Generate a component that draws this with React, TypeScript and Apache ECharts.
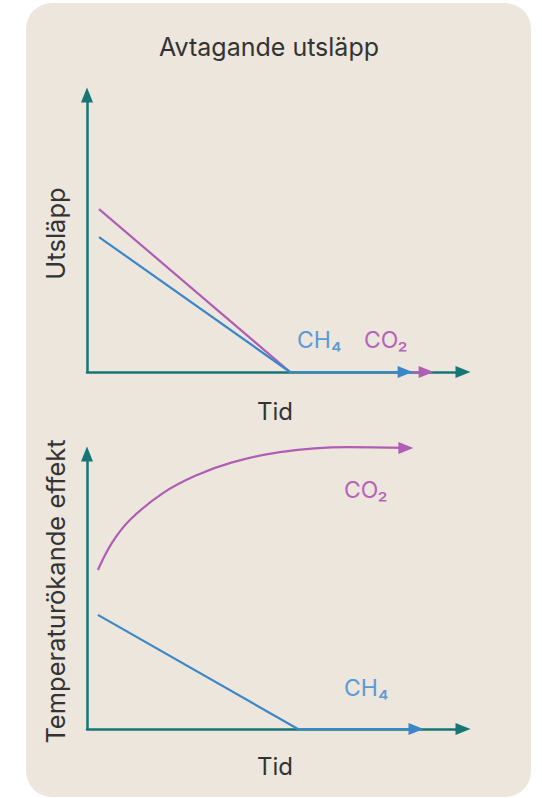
import React, { useEffect, useRef } from "react";
import * as echarts from "echarts";

// ---- data (abstract units: time 0..10, level 0..10) ----
const topCH4Time = [0.32, 5.4, 8.46];
const topCH4 = [4.87, 0, 0];
const topCO2Time = [0.32, 5.4, 9.02];
const topCO2 = [5.88, 0, 0];

const botCH4Time = [0.29, 5.61, 8.75];
const botCH4 = [4.15, 0, 0];
const botCO2Time = [0.29, 0.66, 1.14, 2.02, 2.93, 3.8, 5.13, 6.91, 8.48];
const botCO2 = [5.78, 6.76, 7.6, 8.58, 9.24, 9.67, 10.07, 10.25, 10.22];

const title = "Avtagande utsläpp";
const xName = "Tid";
const topYName = "Utsläpp";
const botYName = "Temperaturökande effekt";
const ch4Label = "CH₄";
const co2Label = "CO₂";

const TEAL = "#167575";
const BLUE = "#3b86c9";
const MAGENTA = "#b05db5";
const BLUE_TXT = "#5a9ad6";
const MAG_TXT = "#b564b8";
const DARK = "#333333";
const FONT = "Inter, 'Noto Sans', sans-serif";

function withArrow(xs: number[], ys: number[]) {
  return xs.map((x, i) =>
    i === xs.length - 1
      ? { value: [x, ys[i]], symbol: "triangle", symbolSize: [12, 15], symbolRotate: -90 }
      : [x, ys[i]]
  );
}

function lineSeries(idx: number, xs: number[], ys: number[], color: string, smooth: number | boolean = false) {
  return {
    type: "line",
    xAxisIndex: idx,
    yAxisIndex: idx,
    data: withArrow(xs, ys),
    symbol: "none",
    showSymbol: true,
    smooth,
    clip: false,
    lineStyle: { color, width: 2.2 },
    itemStyle: { color, borderWidth: 0 },
    z: 3,
  };
}

export default function App() {
  const ref = useRef<HTMLDivElement>(null);
  useEffect(() => {
    const chart = echarts.init(ref.current!, null, { renderer: "svg" });
    const axisLine = {
      show: true,
      symbol: ["none", "triangle"],
      symbolSize: [12, 15],
      lineStyle: { color: TEAL, width: 2.5 },
    };
    const xAxisBase = {
      type: "value",
      min: 0,
      max: 10,
      axisLine,
      axisTick: { show: false },
      axisLabel: { show: false },
      splitLine: { show: false },
      name: xName,
      nameLocation: "middle",
      nameGap: 27,
      nameTextStyle: { fontSize: 24, color: DARK, fontFamily: FONT },
    };
    const yAxisBase = {
      type: "value",
      min: 0,
      max: 10,
      axisLine,
      axisTick: { show: false },
      axisLabel: { show: false },
      splitLine: { show: false },
      nameLocation: "middle",
      nameTextStyle: { fontSize: 25.5, color: DARK, fontFamily: FONT },
    };
    chart.setOption({
      animation: false,
      grid: [
        { left: 87, top: 95, width: 376, height: 277 },
        { left: 87, top: 454, width: 376, height: 275 },
      ],
      xAxis: [
        { ...xAxisBase, gridIndex: 0 },
        { ...xAxisBase, gridIndex: 1, nameGap: 25 },
      ],
      yAxis: [
        { ...yAxisBase, gridIndex: 0, name: topYName, nameGap: 19 },
        { ...yAxisBase, gridIndex: 1, name: botYName, nameGap: 19 },
      ],
      graphic: [
        {
          type: "rect",
          z: -10,
          shape: { x: 26, y: 3, width: 505, height: 794, r: 26 },
          style: { fill: "#ece6dd" },
        },
        {
          type: "text",
          z: 100,
          x: 269,
          y: 47,
          style: { text: title, fontSize: 25, fill: DARK, fontFamily: FONT, align: "center", verticalAlign: "middle" },
        },
        {
          type: "text",
          z: 100,
          x: 297,
          y: 340,
          style: { text: ch4Label, fontSize: 23, fill: BLUE_TXT, fontFamily: FONT, align: "left", verticalAlign: "middle" },
        },
        {
          type: "text",
          z: 100,
          x: 364,
          y: 340,
          style: { text: co2Label, fontSize: 23, fill: MAG_TXT, fontFamily: FONT, align: "left", verticalAlign: "middle" },
        },
        {
          type: "text",
          z: 100,
          x: 344,
          y: 490,
          style: { text: co2Label, fontSize: 23, fill: MAG_TXT, fontFamily: FONT, align: "left", verticalAlign: "middle" },
        },
        {
          type: "text",
          z: 100,
          x: 344,
          y: 688,
          style: { text: ch4Label, fontSize: 23, fill: BLUE_TXT, fontFamily: FONT, align: "left", verticalAlign: "middle" },
        },
      ],
      series: [
        lineSeries(0, topCO2Time, topCO2, MAGENTA),
        lineSeries(0, topCH4Time, topCH4, BLUE),
        lineSeries(1, botCO2Time, botCO2, MAGENTA, 0.4),
        lineSeries(1, botCH4Time, botCH4, BLUE),
      ],
    });
    return () => chart.dispose();
  }, []);
  return (
    <div
      ref={ref}
      style={{ position: "absolute", left: 0, top: 0, width: 542, height: 798, background: "#ffffff" }}
    />
  );
}
